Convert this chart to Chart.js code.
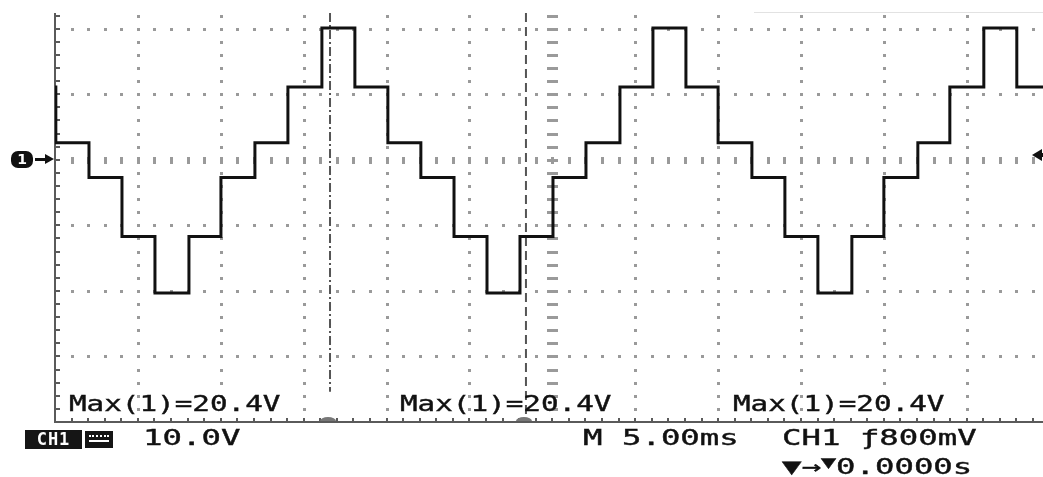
<!DOCTYPE html>
<html>
<head>
<meta charset="utf-8">
<script src="https://cdn.jsdelivr.net/npm/chart.js@4/dist/chart.umd.min.js"></script>
<style>
  html, body { margin: 0; padding: 0; background: #fff; }
  #wrap { position: relative; width: 1043px; height: 477px; overflow: hidden; }
  canvas { position: absolute; left: 0; top: 0; }
  .t { position: absolute; font-family: "DejaVu Sans Mono", monospace; font-size: 22px; line-height: 22px;
       font-weight: normal; color: #111; white-space: pre; transform: scaleX(1.33); transform-origin: 0 0;
       -webkit-text-stroke: 0.4px #111; }
  .w { transform: scaleX(1.47); }
  .ch1 { position: absolute; left: 25px; top: 430px; width: 57px; height: 19px; background: #151515;
         color: #fff; font-family: "DejaVu Sans Mono", monospace; font-weight: bold; font-size: 17px;
         line-height: 19px; text-align: center; letter-spacing: 1px; }
  .cpl { position: absolute; left: 85px; top: 431px; width: 28px; height: 17px; background: #151515; }
  .cpl .a { position: absolute; left: 4px; right: 4px; top: 4px; height: 0; border-top: 2px dotted #fff; }
  .cpl .b { position: absolute; left: 4px; right: 4px; top: 9px; height: 2px; background: #fff; }
  .m1 { position: absolute; left: 11px; top: 151px; width: 22px; height: 17px; background: #111; border-radius: 7px;
        color: #fff; font-family: "DejaVu Sans", sans-serif; font-weight: bold; font-size: 14px; line-height: 17px; text-align: center; }
  .arr { position: absolute; left: 35px; top: 158px; width: 11px; height: 3px; background: #111; }
  .arrh { position: absolute; left: 45px; top: 154px; width: 0; height: 0; border-top: 5px solid transparent;
          border-bottom: 5px solid transparent; border-left: 9px solid #111; }
  .trg { position: absolute; left: 1032px; top: 149px; width: 0; height: 0; border-top: 6px solid transparent;
         border-bottom: 6px solid transparent; border-right: 10px solid #111; }
  .trgt { position: absolute; left: 1040px; top: 153px; width: 4px; height: 4px; background: #111; }
  .sup { font-size: 17px; position: relative; top: -6px; }
</style>
</head>
<body>
<div id="wrap">
  <canvas id="c" width="1043" height="477"></canvas>
  <div class="m1">1</div>
  <div class="arr"></div><div class="arrh"></div>
  <div class="trg"></div><div class="trgt"></div>
  <div class="t" style="left:69px; top:393px;">Max(1)=20.4V</div>
  <div class="t" style="left:400px; top:393px;">Max(1)=20.4V</div>
  <div class="t" style="left:733px; top:393px;">Max(1)=20.4V</div>
  <div class="ch1">CH1</div>
  <div class="cpl"><div class="a"></div><div class="b"></div></div>
  <div class="t w" style="left:143px; top:427px;">10.0V</div>
  <div class="t w" style="left:583px; top:427px;">M 5.00ms</div>
  <div class="t w" style="left:782px; top:427px;">CH1 ƒ800mV</div>
  <div class="t w" style="left:782px; top:456px;">▼→<span class="sup">▼</span>0.0000s</div>
</div>
<script>
// ---- data (time in ms, voltage in V) ----
const stepTimes = [0, 0.05, 2.05, 4.04, 6.03, 8.08, 10.01, 12.06, 14.05, 16.10, 18.09, 20.08, 22.07, 24.07,
  26.06, 28.05, 30.04, 32.03, 34.08, 36.07, 38.06, 40.0, 42.04, 44.03, 46.02, 48.07, 50.0, 52.05, 53.98,
  56.03, 58.02, 59.6];
const levels = [11.1, 2.6, -2.7, -11.7, -20.3, -11.7, -2.7, 2.6, 11.1, 20.1, 11.1, 2.6, -2.7, -11.7,
  -20.3, -11.7, -2.7, 2.6, 11.1, 20.1, 11.1, 2.6, -2.7, -11.7, -20.3, -11.7, -2.7, 2.6, 11.1,
  20.1, 11.1, 11.1];
const cursorA = [16.59];          // dash-dot cursor time
const cursorB = [28.41];          // dashed cursor time
const cursorAY = [22.4, -35.4];
const cursorBY = [22.4, -38.9];
const xRange = [0, 59.6];         // ms, 5 ms/div
const yRange = [-40, 22.4];       // V, 10 V/div
const xDiv = 5, yDiv = 10, centerT = 30;

const trace = stepTimes.map((t, i) => ({ x: t, y: levels[i] }));

const scopeGrid = {
  id: 'scopeGrid',
  beforeDatasetsDraw(chart) {
    const { ctx, chartArea: a, scales: { x, y } } = chart;
    ctx.save();
    ctx.fillStyle = '#9a9a9a';
    const xMinor = xDiv / 5, yMinor = yDiv / 5;
    for (let t = xDiv; t < xRange[1]; t += xDiv) {
      if (Math.abs(t - centerT) < 1e-6) continue;
      const px = Math.round(x.getPixelForValue(t));
      for (let v = yRange[0] + yMinor; v <= yRange[1]; v += yMinor) {
        const py = Math.round(y.getPixelForValue(v));
        ctx.fillRect(px - 1, py - 1, 3, 3);
      }
    }
    for (let v = yRange[0] + yDiv; v <= yRange[1]; v += yDiv) {
      if (Math.abs(v) < 1e-6) continue;
      const py = Math.round(y.getPixelForValue(v));
      for (let t = xMinor; t < xRange[1]; t += xMinor) {
        const px = Math.round(x.getPixelForValue(t));
        ctx.fillRect(px - 1, py - 1, 3, 3);
      }
    }
    const py0 = Math.round(y.getPixelForValue(0));
    for (let t = xMinor; t < xRange[1]; t += xMinor) {
      const px = Math.round(x.getPixelForValue(t));
      ctx.fillRect(px - 1, py0 - 3, 3, 7);
    }
    const pxc = Math.round(x.getPixelForValue(centerT));
    for (let v = yRange[0] + yMinor; v <= yRange[1]; v += yMinor) {
      const py = Math.round(y.getPixelForValue(v));
      ctx.fillRect(pxc - 5, py - 1, 11, 3);
    }
    ctx.fillStyle = '#5a5a5a';
    ctx.fillRect(a.left - 1, a.top, 2, a.bottom - a.top + 1);
    ctx.fillRect(a.left - 1, a.bottom - 1, a.right - a.left + 1, 2);
    for (let v = yRange[0] + yMinor; v <= yRange[1]; v += yMinor) {
      const py = Math.round(y.getPixelForValue(v));
      ctx.fillRect(a.left, py - 1, 5, 2);
    }
    for (let t = xMinor; t < xRange[1]; t += xMinor) {
      const px = Math.round(x.getPixelForValue(t));
      ctx.fillRect(px - 1, a.bottom - 4, 2, 4);
    }
    ctx.fillStyle = '#777';
    [cursorA[0], cursorB[0]].forEach(t => {
      const px = x.getPixelForValue(t);
      ctx.beginPath();
      ctx.ellipse(px - 2, a.bottom - 1, 8, 4, 0, Math.PI, 2 * Math.PI);
      ctx.fill();
    });
    ctx.fillStyle = '#e2e2e2';
    ctx.fillRect(754, 12, 1043 - 754, 1);
    ctx.restore();
  }
};

new Chart(document.getElementById('c'), {
  type: 'line',
  data: {
    datasets: [
      { data: trace, borderColor: '#111', borderWidth: 3, stepped: true, pointRadius: 0,
        borderJoinStyle: 'miter', borderCapStyle: 'square', fill: false, order: 0 },
      { data: cursorAY.map(v => ({ x: cursorA[0], y: v })), borderColor: '#555', borderWidth: 2,
        borderDash: [9, 3, 2, 3], pointRadius: 0, fill: false, order: 1 },
      { data: cursorBY.map(v => ({ x: cursorB[0], y: v })), borderColor: '#555', borderWidth: 2,
        borderDash: [9, 5], pointRadius: 0, fill: false, order: 1 }
    ]
  },
  options: {
    responsive: false,
    animation: false,
    events: [],
    devicePixelRatio: 1,
    layout: { padding: { left: 55, top: 13, right: 0, bottom: 55 } },
    plugins: { legend: { display: false }, tooltip: { enabled: false }, title: { display: false } },
    scales: {
      x: { type: 'linear', min: xRange[0], max: xRange[1], display: false },
      y: { type: 'linear', min: yRange[0], max: yRange[1], display: false }
    }
  },
  plugins: [scopeGrid]
});
</script>
</body>
</html>
